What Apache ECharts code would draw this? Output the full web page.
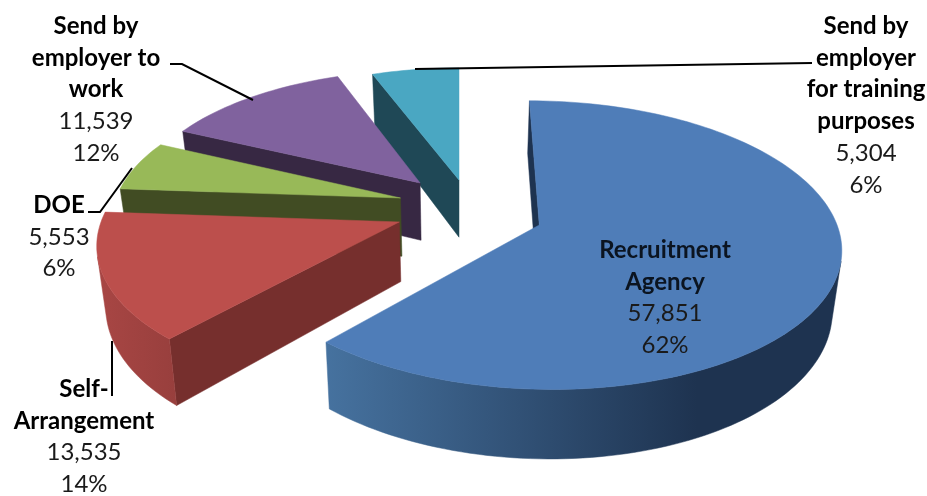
<!DOCTYPE html>
<html><head><meta charset="utf-8">
<style>html,body{margin:0;padding:0;background:#fff}#c{width:927px;height:496px}</style>
<script src="https://cdn.jsdelivr.net/npm/echarts@6/dist/echarts.min.js"></script>
</head><body><div id="c"></div>
<script>
// ---- chart data ----
var categories = ['Recruitment\nAgency', 'Self-\nArrangement', 'DOE', 'Send by\nemployer to\nwork', 'Send by\nemployer\nfor training\npurposes'];
var values = [57851, 13535, 5553, 11539, 5304];
var percentLabels = ['62%', '14%', '6%', '12%', '6%'];

// ---- styling ----
var topColors = ['#4F7DB8', '#BC4F4C', '#98B958', '#80629E', '#4AA7C2'];
var cutColors = ['#1E3350', '#762F2D', '#414C23', '#372843', '#1F4856'];
var rimStops = [
  [[0, '#46729F'], [0.72, '#1E3350'], [1, '#1E3350']],
  [[0, '#A84644'], [1, '#983F3D']],
  [[0, '#414C23'], [1, '#414C23']],
  [[0, '#372843'], [1, '#372843']],
  [[0, '#1F4856'], [1, '#1F4856']]
];
// slice explosion on the pie's ground plane (x right, y far), in radii
var explodeX = [0.275, -0.205, -0.206, -0.139, 0];
var explodeY = [-0.10, -0.078, 0.10, 0.216, 0.239];
var radiusScale = [1.02, 1.025, 1, 1, 1];
// perspective camera
var cam = {cx: 459, A: 288, k: 0.135, yh: -788.7, B: 1000, h: 59, shrink: 0.975};
// label layout: centre x, first line centre y
var labelX = [665, 84, 59, 96, 866];
var labelY = [250, 389, 205, 26, 26];
var lineH = 31.8;
var fontSize = 24;
var textFill = ['#0b1420', '#000', '#000', '#000', '#000'];
var leaders = [
  [[170, 64], [182, 64], [253, 100]],
  [[415, 69], [812, 63]],
  [[88, 212], [100, 212], [132, 168]],
  [[112, 341], [112, 396]]
];

var total = values.reduce(function (a, b) { return a + b; }, 0);

function project(X, Y, bottom) {
  var f = 1 / (1 + cam.k * Y);
  var s = bottom ? cam.shrink : 1;
  return [cam.cx + s * cam.A * X * f, cam.yh + (cam.B + (bottom ? cam.h : 0)) * f];
}
function shoelace(p) {
  var s = 0;
  for (var i = 0; i < p.length; i++) {
    var q = p[(i + 1) % p.length];
    s += p[i][0] * q[1] - q[0] * p[i][1];
  }
  return s;
}
function wallVisible(a, b, c, d) { return shoelace([a, b, c, d]) < 0; }

function renderSlice(params, api) {
  var i = api.value(0);
  var start = 0;
  for (var n = 0; n < i; n++) start += values[n] / total * 360;
  var sweep = api.value(1) / total * 360;
  var ex = explodeX[i], ey = explodeY[i], r = radiusScale[i];
  var rimT = [], rimB = [];
  var steps = Math.max(6, Math.ceil(sweep / 1.5));
  for (var s = 0; s <= steps; s++) {
    var a = (start + sweep * s / steps) * Math.PI / 180;
    var X = ex + r * Math.sin(a), Y = ey + r * Math.cos(a);
    rimT.push(project(X, Y, false));
    rimB.push(project(X, Y, true));
  }
  var apexT = project(ex, ey, false), apexB = project(ex, ey, true);
  var children = [];
  function poly(points, fill, z) {
    children.push({type: 'polygon', shape: {points: points}, style: {fill: fill, stroke: fill, lineWidth: 0.5}, z2: z});
  }
  // cut faces
  if (wallVisible(apexT, rimT[0], rimB[0], apexB)) poly([apexT, rimT[0], rimB[0], apexB], cutColors[i], 1);
  if (wallVisible(rimT[steps], apexT, apexB, rimB[steps])) poly([rimT[steps], apexT, apexB, rimB[steps]], cutColors[i], 1);
  // outer rim: front facing part only
  var run = [];
  for (var j = 0; j < steps; j++) {
    if (wallVisible(rimT[j], rimT[j + 1], rimB[j + 1], rimB[j])) {
      if (!run.length) run.push(j);
      run[1] = j + 1;
    }
  }
  if (run.length) {
    var pts = rimT.slice(run[0], run[1] + 1).concat(rimB.slice(run[0], run[1] + 1).reverse());
    var xs = pts.map(function (p) { return p[0]; });
    poly(pts, {
      type: 'linear', global: true,
      x: Math.min.apply(null, xs), y: 0, x2: Math.max.apply(null, xs), y2: 0,
      colorStops: rimStops[i].map(function (c) { return {offset: c[0], color: c[1]}; })
    }, 2);
  }
  // top face
  poly([apexT].concat(rimT), topColors[i], 3);
  return {type: 'group', children: children};
}

function renderLabel(params, api) {
  var i = api.value(0);
  var head = categories[i].split('\n').map(function (t) { return '{b|' + t + '}'; }).join('\n');
  var body = '{r|' + api.value(1).toLocaleString('en-US') + '}\n{r|' + percentLabels[i] + '}';
  var fill = textFill[i];
  return {
    type: 'text',
    z2: 10,
    style: {
      x: labelX[i], y: labelY[i] - lineH / 2,
      text: head + '\n' + body,
      align: 'center', verticalAlign: 'top',
      rich: {
        b: {fontFamily: 'Lato', fontWeight: 'bold', fontSize: fontSize, lineHeight: lineH, fill: fill, align: 'center'},
        r: {fontFamily: 'Lato', fontWeight: 'normal', fontSize: fontSize, lineHeight: lineH, fill: '#1a1a1a', align: 'center'}
      }
    }
  };
}

function renderLeader(params, api) {
  var line = leaders[api.value(0)];
  return {type: 'polyline', shape: {points: line}, style: {stroke: '#000', lineWidth: 2, fill: 'none'}, z2: 8};
}

// far slices are painted first
var paintOrder = [4, 3, 2, 1, 0];

var chart = echarts.init(document.getElementById('c'), null, {renderer: 'canvas'});
chart.setOption({
  animation: false,
  backgroundColor: '#fff',
  series: [
    {type: 'custom', coordinateSystem: 'none', silent: true, z: 1, renderItem: renderSlice,
     data: paintOrder.map(function (i) { return [i, values[i]]; })},
    {type: 'custom', coordinateSystem: 'none', silent: true, z: 2, renderItem: renderLeader,
     data: leaders.map(function (l, i) { return [i]; })},
    {type: 'custom', coordinateSystem: 'none', silent: true, z: 3, renderItem: renderLabel,
     data: values.map(function (v, i) { return [i, v]; })}
  ]
});
</script></body></html>
